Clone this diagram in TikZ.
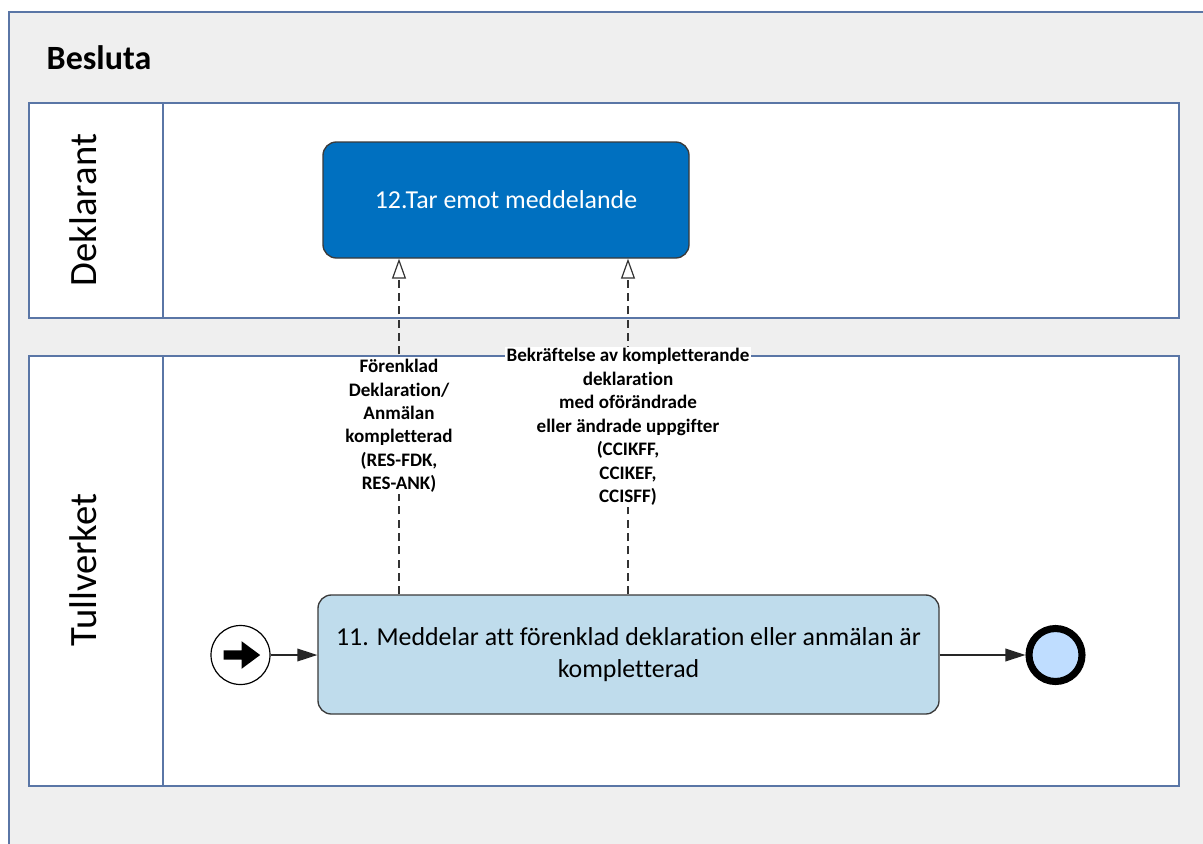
\documentclass[tikz,border=0pt]{standalone}
\usepackage{fontspec}
\setmainfont{Carlito}[Ligatures=NoCommon]
\usetikzlibrary{arrows.meta}
\definecolor{framecol}{HTML}{5A76A6}
\definecolor{bgcol}{HTML}{EFEFEF}
\definecolor{darkblue}{HTML}{0070C0}
\definecolor{lightblue}{HTML}{BFDCEC}
\definecolor{endfill}{HTML}{BFDDFF}
\definecolor{boxborder}{HTML}{3A3A3A}
\tikzset{
  lane/.style={draw=framecol, line width=1.3pt, fill=white},
  lanelabel/.style={rotate=90, font=\fontsize{29}{33}\selectfont},
  task12/.style={draw=boxborder, line width=1pt, fill=darkblue, rounded corners=10pt, text=white,
    minimum width=274.5pt, minimum height=87pt, font=\fontsize{19.4}{23}\selectfont},
  task11/.style={draw=boxborder, line width=1pt, fill=lightblue, rounded corners=10pt, text=black,
    minimum width=465.75pt, minimum height=89.25pt, align=center,
    font=\fontsize{19.4}{24}\selectfont},
  startev/.style={circle, draw=black, line width=0.9pt, fill=white, minimum size=44.25pt, inner sep=0pt},
  endev/.style={circle, draw=black, line width=5.3pt, fill=endfill, minimum size=39.75pt, inner sep=0pt},
  msg/.style={draw=black!80, line width=0.9pt, dash pattern=on 6pt off 4pt,
    -{Triangle[open, length=15pt, width=10.5pt]}},
  seqflow/.style={draw=black!85, line width=1pt, -{Triangle[length=15pt, width=9.5pt]}},
  msglabel/.style={fill=white, align=center, inner sep=1pt, font=\fontsize{14.3}{17.6}\selectfont\bfseries}
}
\begin{document}
\begin{tikzpicture}[x=0.75pt, y=-0.75pt]
\useasboundingbox (0,0) rectangle (1203,843);
\begin{scope}
  \clip (0,0) rectangle (1203,843);
  \draw[draw=framecol, line width=1.3pt, fill=bgcol] (9,12) rectangle (1230,870);
\end{scope}
\node[anchor=west, font=\fontsize{25.5}{30}\selectfont\bfseries] (title) at (42,58) {Besluta};

% lanes
\draw[lane] (29,103) rectangle (1179,318);
\draw[draw=framecol, line width=1.3pt] (163,103) -- (163,318);
\node[lanelabel] (deklarant) at (83,210) {Deklarant};

\draw[lane] (29,356) rectangle (1179,786);
\draw[draw=framecol, line width=1.3pt] (163,356) -- (163,786);
\node[lanelabel] (tullverket) at (83,570) {Tullverket};

% tasks
\node[task12] (b12) at (506,200) {12.Tar emot meddelande};
\node[task11] (b11) at (628.5,654.5) {11. Meddelar att förenklad deklaration eller anmälan är\\kompletterad};

% events
\node[startev] (start) at (240.5,655) {};
\fill[black] ([xshift=-12.75pt,yshift=3.4pt]start.center) -- ++(13.5pt,0) -- ++(0,7pt) -- ++(14pt,-10.4pt)
  -- ++(-14pt,-10.4pt) -- ++(0,7pt) -- ++(-13.5pt,0) -- cycle;
\node[endev] (end) at (1055.5,655) {};

\draw[seqflow] (start) -- (b11.west |- start);
\draw[seqflow] (b11.east |- end) -- (end);

% message flows
\coordinate (c1) at (399,0);
\coordinate (c2) at (628,0);
\draw[msg] (c1 |- b11.north) -- (c1 |- b12.south);
\draw[msg] (c2 |- b11.north) -- (c2 |- b12.south);
\node[msglabel] (l1) at (399,426) {Förenklad\\Deklaration/\\Anmälan\\kompletterad\\(RES-FDK,\\RES-ANK)};
\node[msglabel] (l2) at (628,427) {Bekräftelse av kompletterande\\deklaration\\med oförändrade\\eller ändrade uppgifter\\(CCIKFF,\\CCIKEF,\\CCISFF)};
\end{tikzpicture}
\end{document}
